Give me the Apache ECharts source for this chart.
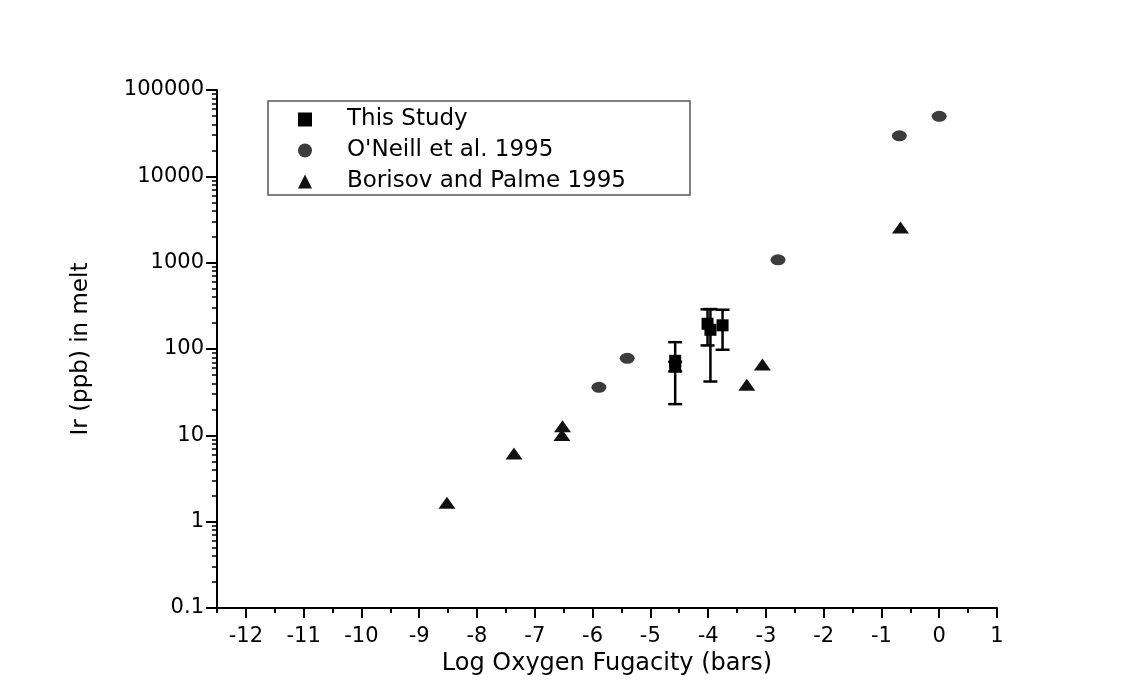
<!DOCTYPE html>
<html>
<head>
<meta charset="utf-8">
<script src="https://cdn.jsdelivr.net/npm/echarts@6/dist/echarts.min.js"></script>
<style>
html,body{margin:0;padding:0;background:#fff;}
#chart{width:1148px;height:690px;}
</style>
</head>
<body>
<div id="chart"></div>
<script>
// ---- data ----
const seriesNames = ['This Study', "O'Neill et al. 1995", 'Borisov and Palme 1995'];
const studyX = [-4.57, -4.57, -4.01, -3.96, -3.75];
const studyY = [73, 63, 196, 167, 188];
const studyErrLow = [23, 55, 110, 42, 98];
const studyErrHigh = [120, 71, 288, 290, 285];
const oneillX = [-5.89, -5.40, -2.79, -0.69, 0.0];
const oneillY = [36, 78, 1080, 29500, 49500];
const borisovX = [-8.52, -7.36, -6.52, -6.53, -3.33, -3.06, -0.67];
const borisovY = [1.66, 6.15, 12.75, 10.1, 38.5, 66, 2550];
const xMajorTicks = [-12, -11, -10, -9, -8, -7, -6, -5, -4, -3, -2, -1, 0, 1];
const xMinorTicks = [-12.5, -11.5, -10.5, -9.5, -8.5, -7.5, -6.5, -5.5, -4.5, -3.5, -2.5, -1.5, -0.5, 0.5];
const yDecades = [-1, 0, 1, 2, 3, 4];
const yMinorMultipliers = [2, 3, 4, 5, 6, 7, 8, 9];

const yMinorTicks = [];
yDecades.forEach(d => yMinorMultipliers.forEach(m => yMinorTicks.push(d + Math.log10(m))));

const pair = (xs, ys) => xs.map((x, i) => [x, ys[i]]);
const errData = studyX.map((x, i) => [x, studyErrLow[i], studyErrHigh[i]]);

const FONT = 'DejaVu Sans';
const chart = echarts.init(document.getElementById('chart'), null, {renderer: 'canvas'});

const option = {
  backgroundColor: '#ffffff',
  animation: false,
  textStyle: {fontFamily: FONT, color: '#000'},
  grid: {left: 217, right: 151, top: 90, bottom: 82, containLabel: false},
  graphic: [{
    type: 'rect',
    shape: {x: 268, y: 101, width: 422, height: 94},
    style: {fill: 'none', stroke: '#555', lineWidth: 1.5},
    z: 10
  }],
  legend: {
    orient: 'vertical',
    left: 298,
    top: 108,
    padding: 0,
    itemWidth: 14,
    itemHeight: 14,
    itemGap: 8,
    data: seriesNames,
    textStyle: {fontFamily: FONT, fontSize: 23, color: '#000', lineHeight: 22, padding: [0, 0, 0, 30]},
    selectedMode: false
  },
  xAxis: [{
    type: 'value',
    min: -12.5,
    max: 1,
    name: 'Log Oxygen Fugacity (bars)',
    nameLocation: 'middle',
    nameGap: 17,
    nameTextStyle: {fontFamily: FONT, fontSize: 24, color: '#000'},
    axisLine: {show: true, onZero: false, lineStyle: {color: '#000', width: 2}},
    axisTick: {show: true, length: 10, customValues: xMajorTicks, lineStyle: {color: '#000', width: 2}},
    axisLabel: {customValues: xMajorTicks, fontFamily: FONT, fontSize: 21, color: '#000', margin: 18,
      formatter: v => String(Math.round(v))},
    splitLine: {show: false}
  }, {
    type: 'value',
    min: -12.5,
    max: 1,
    position: 'bottom',
    axisLine: {show: false, onZero: false},
    axisTick: {show: true, length: 5, customValues: xMinorTicks, lineStyle: {color: '#000', width: 2}},
    axisLabel: {show: false},
    splitLine: {show: false}
  }],
  yAxis: [{
    type: 'log',
    logBase: 10,
    min: 0.1,
    max: 100000,
    interval: 1,
    splitNumber: 6,
    name: 'Ir (ppb) in melt',
    nameLocation: 'middle',
    nameRotate: 90,
    nameGap: 124,
    nameTextStyle: {fontFamily: FONT, fontSize: 23, color: '#000'},
    axisLine: {show: true, onZero: false, lineStyle: {color: '#000', width: 2}},
    axisTick: {show: true, length: 11, lineStyle: {color: '#000', width: 2}},
    axisLabel: {fontFamily: FONT, fontSize: 21, color: '#000', margin: 13,
      formatter: v => String(+Number(v).toPrecision(6))},
    splitLine: {show: false}
  }, {
    type: 'value',
    min: -1,
    max: 5,
    position: 'left',
    axisLine: {show: false, onZero: false},
    axisTick: {show: true, length: 5, customValues: yMinorTicks, lineStyle: {color: '#000', width: 1.5}},
    axisLabel: {show: false},
    splitLine: {show: false}
  }],
  series: [{
    name: seriesNames[0],
    type: 'scatter',
    xAxisIndex: 0, yAxisIndex: 0,
    symbol: 'rect',
    symbolSize: 12,
    itemStyle: {color: '#000', opacity: 1},
    data: pair(studyX, studyY),
    z: 5
  }, {
    name: 'errorbars',
    type: 'custom',
    xAxisIndex: 0, yAxisIndex: 0,
    data: errData,
    encode: {x: 0, y: [1, 2]},
    renderItem: function (params, api) {
      const x = api.value(0);
      const lo = api.coord([x, api.value(1)]);
      const hi = api.coord([x, api.value(2)]);
      const hw = 7;
      const st = {stroke: '#000', lineWidth: 2.5, fill: 'none'};
      return {
        type: 'group',
        children: [
          {type: 'line', shape: {x1: lo[0], y1: lo[1], x2: hi[0], y2: hi[1]}, style: st},
          {type: 'line', shape: {x1: lo[0] - hw, y1: lo[1], x2: lo[0] + hw, y2: lo[1]}, style: st},
          {type: 'line', shape: {x1: hi[0] - hw, y1: hi[1], x2: hi[0] + hw, y2: hi[1]}, style: st}
        ]
      };
    },
    z: 4
  }, {
    name: seriesNames[1],
    type: 'scatter',
    xAxisIndex: 0, yAxisIndex: 0,
    symbol: 'circle',
    symbolSize: [15, 11],
    itemStyle: {color: '#3c3c3c', opacity: 1},
    data: pair(oneillX, oneillY),
    z: 5
  }, {
    name: seriesNames[2],
    type: 'scatter',
    xAxisIndex: 0, yAxisIndex: 0,
    symbol: 'triangle',
    symbolSize: [17, 12],
    itemStyle: {color: '#111', opacity: 1},
    data: pair(borisovX, borisovY),
    z: 5
  }]
};
chart.setOption(option);
</script>
</body>
</html>
